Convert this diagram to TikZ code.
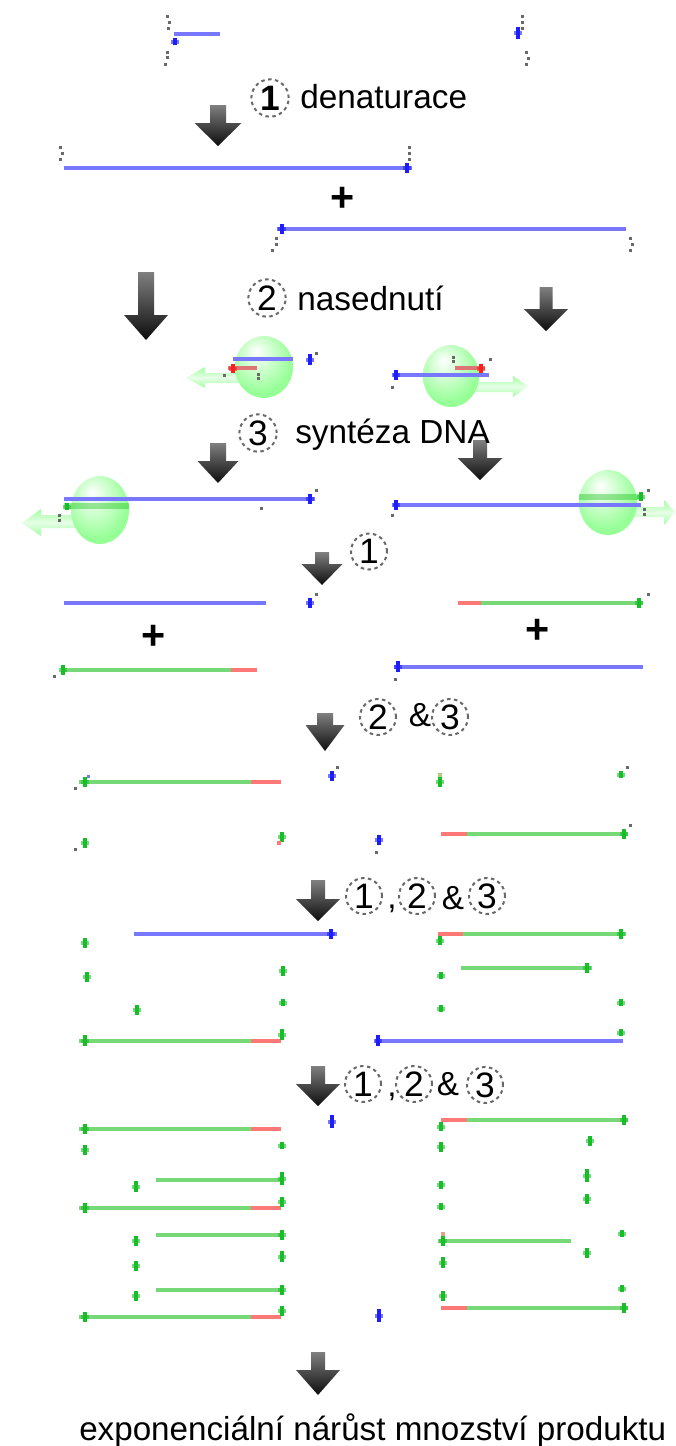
\documentclass[tikz,border=0pt]{standalone}
\usepackage{fontspec}
\setmainfont{Liberation Sans}
\definecolor{blueline}{RGB}{120,120,255}
\definecolor{greenline}{RGB}{118,216,118}
\definecolor{redline}{RGB}{255,120,120}
\definecolor{bluetick}{RGB}{30,30,250}
\definecolor{greentick}{RGB}{24,190,40}
\definecolor{redtick}{RGB}{255,30,30}
\definecolor{dotgray}{RGB}{105,105,105}
\definecolor{ballgreen}{RGB}{150,255,150}
\definecolor{palegreen}{RGB}{160,255,160}
\pgfdeclareradialshading{greenball}{\pgfpoint{-7bp}{13bp}}{%
  color(0bp)=(white); color(14bp)=(ballgreen!50!white); color(28bp)=(ballgreen); color(60bp)=(ballgreen)}
\tikzset{
  strand/.style={line width=3pt,line cap=butt},
  labeltext/.style={anchor=base west,inner sep=0pt,font=\fontsize{25pt}{28pt}\selectfont},
  plus/.style={inner sep=0pt,font=\bfseries\fontsize{31pt}{33pt}\selectfont},
  amp/.style={inner sep=0pt,font=\fontsize{25pt}{28pt}\selectfont},
  stepnum/.style={circle,draw=dotgray,line width=1.5pt,dash pattern=on 2.6pt off 2.6pt,
    minimum size=28pt,inner sep=0pt,text=black,font=\fontsize{26.5pt}{28pt}\selectfont},
  smallstep/.style={stepnum,minimum size=27pt},
  downarrow/.style={top color=black!50,middle color=black!72,bottom color=black!95},
  enzymearrow/.style={top color=palegreen,bottom color=palegreen,middle color=palegreen!25!white},
}
% downward block arrow: x, shaft half width, top, head start, head half width, tip
\newcommand{\blockarrow}[6]{\shade[downarrow] (#1-#2,#3) -- (#1+#2,#3) -- (#1+#2,#4) -- (#1+#5,#4)
  -- (#1,#6) -- (#1-#5,#4) -- (#1-#2,#4) -- cycle;}
\newcommand{\ball}[4]{\shade[shading=greenball] (#1,#2) ellipse [x radius=#3,y radius=#4];}
% strand end: column with a paler nub through its middle
\newcommand{\strandtip}[4]{%
  \fill[#1,opacity=.6] (#2-4,#3/2+#4/2-2) rectangle (#2+4,#3/2+#4/2+2);
  \fill[#1] (#2-2,#3) rectangle (#2+2,#4);}
\begin{document}
\begin{tikzpicture}[x=0.75pt,y=-0.75pt]
\useasboundingbox (0,0) rectangle (675,1446);
\fill[white] (0,0) rectangle (675,1446);

% enzyme motion arrows lie behind the polymerase spheres
\shade[enzymearrow] (186,378) -- (205,367) -- (205,373) -- (238,373) -- (238,383) -- (205,383) -- (205,388) -- cycle;
\shade[enzymearrow] (528,386) -- (513,376) -- (513,382) -- (476,382) -- (476,392) -- (513,392) -- (513,397) -- cycle;
\shade[enzymearrow] (22,523) -- (41,509) -- (41,515) -- (75,515) -- (75,528) -- (41,528) -- (41,536) -- cycle;
\shade[enzymearrow] (675,512) -- (664,500) -- (664,507) -- (634,507) -- (634,517) -- (664,517) -- (664,525) -- cycle;

% polymerase spheres
\ball{264}{367}{29}{31}
\ball{451}{376}{28}{31}
\ball{100}{510}{29}{34}
\ball{608}{502.5}{29}{32.5}

% template strands
\foreach \a/\b/\y in {174/220/34,64/412/168,277/626/229,233/293/359,393/489/375,64/315/499,393/641/505,
    64/266/603,394/643/667,134/337/934,375/623/1041}
  \draw[strand,blueline] (\a,\y) -- (\b,\y);

% primers alone
\foreach \a/\b/\y in {228/257/368,455/485/368}
  \draw[strand,redline!85!black!90] (\a,\y) -- (\b,\y);

% newly made strands
\draw[line width=4.5pt,green!70!black,opacity=.35] (64,506) -- (129,506);
\draw[line width=4.5pt,green!70!black,opacity=.35] (579,497) -- (642,497);
\foreach \a/\b/\y in {461/592/968,156/281/1180,156/281/1235,438/571/1241,156/281/1290}
  \draw[strand,greenline] (\a,\y) -- (\b,\y);

% primer plus extension, primer on the right
\foreach \a/\m/\b/\y in {61/231/257/670,79/251/281/782,79/251/281/1041,79/251/281/1129,79/251/281/1208,79/251/281/1317}{
  \draw[strand,greenline] (\a,\y) -- (\m,\y);
  \draw[strand,redline] (\m,\y) -- (\b,\y);
}
% primer plus extension, primer on the left
\foreach \a/\m/\b/\y in {458/481/643/603,441/467/628/834,438/463/626/934,441/467/628/1120,441/467/628/1308}{
  \draw[strand,redline] (\a,\y) -- (\m,\y);
  \draw[strand,greenline] (\m,\y) -- (\b,\y);
}

% strand end marks
\foreach \x/\a/\b in {174.5/38/45,518/27/39,407/163/173,282/224/234,310/354/365,396/370/380,310/494/504,396/500/510,
    310/598/608,398/661/672,332/771/781,379/835/845,331/929/939,378/1035/1046,332/1115/1128,379/1309/1322}
  {\strandtip{bluetick}{\x}{\a}{\b}}
\foreach \x/\a/\b in {233/364/373,481/364/373}
  {\strandtip{redtick}{\x}{\a}{\b}}
\foreach \x/\a/\b in {67/503/510,641/492/501,639/598/608,63/665/675,85/777/787,440/777/787,621/771/778,624/829/839,
    85/838/848,282/832/842,621/929/939,85/938/948,440/936/945,87/972/982,283/966/976,587/963/973,441/972/979,
    283/999/1006,137/1005/1015,441/1005/1012,621/999/1006,282/1029/1040,621/1029/1036,85/1035/1046,
    624/1115/1125,85/1124/1134,441/1122/1131,85/1145/1155,282/1142/1149,441/1142/1152,590/1136/1146,
    282/1172/1185,136/1181/1192,587/1169/1182,441/1181/1189,587/1194/1204,282/1197/1207,85/1203/1213,441/1203/1210,
    282/1230/1240,443/1236/1246,622/1230/1237,136/1236/1246,587/1248/1258,282/1251/1262,136/1261/1271,443/1257/1268,
    282/1285/1295,136/1291/1301,443/1291/1301,622/1285/1292,624/1303/1313,282/1306/1316,85/1312/1322}
  {\strandtip{greentick}{\x}{\a}{\b}}

% end labels reduced to single specks
\foreach \x/\y in {167/16,169/22,168/28,167/52,167/57,165/64,522/16,522/22,522/28,526/52,528/58,526/64,
    60/147,62/153,60/159,409/147,409/153,409/159,276/238,276/244,272/250,630/238,632/244,630/250,
    224/375,258/374,258/378,316/353,392/387,453/357,453/361,490/359,
    59/515,59/520,316/490,261/508,392/515,644/509,644/514,648/490,
    316/594,648/594,54/676,395/679,75/788,337/767,627/767,630/825,75/849,376/852}
  \fill[dotgray] (\x-1.5,\y-1.5) rectangle (\x+1.5,\y+1.5);
\fill[blueline] (86.5,774.5) rectangle (90,778);
\fill[redline] (277,841) rectangle (281,845);
\fill[brown!70!green!60] (438,773) rectangle (442,777);
\fill[brown!80!red!60] (441,1232) rectangle (445,1236);

% process arrows
\blockarrow{218}{8}{105}{123}{23.5}{146}
\blockarrow{146}{8}{272}{315}{22}{340}
\blockarrow{546}{6.5}{287}{309}{22}{331}
\blockarrow{218}{8}{443}{461}{20.5}{483}
\blockarrow{480}{7}{440}{458}{22.5}{480}
\blockarrow{322}{7}{552}{564}{20.5}{585}
\blockarrow{325}{8}{713}{725}{19.5}{751}
\blockarrow{318}{7}{880}{899}{22}{921}
\blockarrow{318}{7}{1066}{1084}{22}{1106}
\blockarrow{318}{7}{1352}{1370}{22}{1395}

% step labels
\node[stepnum] (d1) at (270,98) {\textbf{1}};
\node[labeltext] (denat) at (300,108) {denaturace};
\node[stepnum] (n2) at (267,298) {2};
\node[labeltext] (nased) at (297,310) {nasednutí};
\node[stepnum] (s3) at (258,433) {3};
\node[labeltext] (synt) at (295,443) {syntéza DNA};
\node[smallstep] (r1) at (369,551.5) {1};
\node[smallstep] (a2) at (378,717) {2};
\node[amp] (a0) at (420,715) {\&};
\node[smallstep] (a3) at (450,717) {3};
\node[smallstep] (b1) at (364,896) {1};
\node[labeltext] (bc) at (387,908) {,};
\node[smallstep] (b2) at (417,896) {2};
\node[amp] (b0) at (453,898) {\&};
\node[smallstep] (b3) at (487,896) {3};
\node[smallstep] (c1) at (363,1084) {1};
\node[labeltext] (cc) at (387,1096) {,};
\node[smallstep] (c2) at (414,1084) {2};
\node[amp] (c0) at (448,1084) {\&};
\node[smallstep] (c3) at (485,1085) {3};

% plus signs between the separated strands
\node[plus] (p1) at (343,199) {+};
\node[plus] (p2) at (154,637) {+};
\node[plus] (p3) at (538,631) {+};

\node[labeltext,font=\fontsize{24.9pt}{28pt}\selectfont] (result) at (79,1440) {exponenciální nárůst mnozství produktu};
\end{tikzpicture}
\end{document}
